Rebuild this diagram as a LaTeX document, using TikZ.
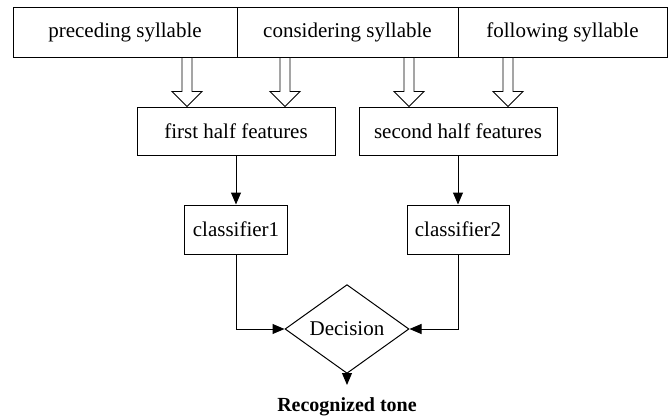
\documentclass[tikz,border=0pt]{standalone}
\usepackage{fontspec}
\setmainfont{Liberation Serif}
\usetikzlibrary{shapes,arrows.meta}

\begin{document}
\begin{tikzpicture}[x=1pt,y=-1pt,
  box/.style={draw,line width=1pt,minimum height=50pt,inner sep=0pt,font=\fontsize{21}{25}\selectfont},
  arr/.style={line width=1pt,-{Triangle[length=12pt,width=10pt]}},
  hollow/.style={line width=0.9pt,fill=white}]
\useasboundingbox (0,0) rectangle (669,415);
\node[box,minimum width=224pt] (pre) at (125,32) {preceding syllable};
\node[box,minimum width=221pt] (cons) at (347.5,32) {considering syllable};
\node[box,minimum width=209pt] (fol) at (562.5,32) {following syllable};
\node[box,minimum width=198pt,minimum height=48pt] (fhalf) at (236,131) {first half features};
\node[box,minimum width=198pt,minimum height=48pt] (shalf) at (458,131) {second half features};
\node[box,minimum width=103pt,minimum height=49pt] (cls1) at (236,229.5) {classifier1};
\node[box,minimum width=102pt,minimum height=49pt] (cls2) at (458,229.5) {classifier2};
\node[box,diamond,minimum width=124pt,minimum height=64pt] (dec) at (347,329) {Decision};
\node[font=\fontsize{20}{24}\selectfont\bfseries,inner xsep=0pt,inner ysep=12pt,anchor=north] (tone) at (347,385) {Recognized tone};
% hollow arrows from the syllables to the features
\foreach \x/\s/\t in {187/pre/fhalf,285/cons/fhalf,409/cons/shalf,508/fol/shalf}{
  \path (\x,0 |- \s.south) coordinate (a) (\x,0 |- \t.north) coordinate (b);
  \draw[hollow] ([xshift=-5pt]a) -- ([shift={(-5,-15)}]b) -- ([shift={(-15,-15)}]b) -- (b)
    -- ([shift={(15,-15)}]b) -- ([shift={(5,-15)}]b) -- ([xshift=5pt]a) -- cycle;
}
\draw[arr] (fhalf) -- (cls1);
\draw[arr] (shalf) -- (cls2);
\draw[arr] (cls1.south) |- (dec.west);
\draw[arr] (cls2.south) |- (dec.east);
\draw[arr] (dec) -- (tone);
\end{tikzpicture}
\end{document}
